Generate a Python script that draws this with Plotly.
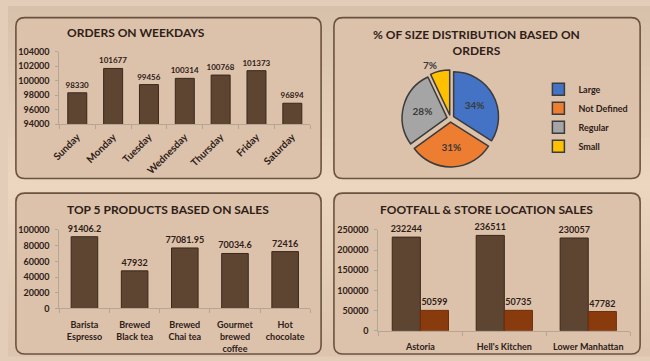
import plotly.graph_objects as go

W, H = 650, 361

# ---- data ----
days = ["Sunday", "Monday", "Tuesday", "Wednesday", "Thursday", "Friday", "Saturday"]
orders = [98330, 101677, 99456, 100314, 100768, 101373, 96894]

sizes = ["Large", "Not Defined", "Regular", "Small"]
size_pct = [34, 31, 28, 7]

products = ["Barista<br>Espresso", "Brewed<br>Black tea", "Brewed<br>Chai tea",
            "Gourmet<br>brewed<br>coffee", "Hot<br>chocolate"]
product_sales = [91406.2, 47932, 77081.95, 70034.6, 72416]

locations = ["Astoria", "Hell's Kitchen", "Lower Manhattan"]
loc_sales = [232244, 236511, 230057]
loc_footfall = [50599, 50735, 47782]

# ---- styles ----
FONT = "Lato"
DARK = "#2e2018"
BAR = "#5d4532"
BAR_LINE = "#3a281c"
ORANGE = "#8a3b0e"
AXIS = "#b4a595"
PANEL = "#dcc2aa"
PANEL_LINE = "#6a5340"


def px(x):
    return x / W


def py(y):
    return 1 - y / H


def rrect(x0, y0, x1, y1, r=9):
    pts = [
        ("M", [(x0 + r, y0)]), ("L", [(x1 - r, y0)]), ("Q", [(x1, y0), (x1, y0 + r)]),
        ("L", [(x1, y1 - r)]), ("Q", [(x1, y1), (x1 - r, y1)]), ("L", [(x0 + r, y1)]),
        ("Q", [(x0, y1), (x0, y1 - r)]), ("L", [(x0, y0 + r)]), ("Q", [(x0, y0), (x0 + r, y0)]),
    ]
    s = ""
    for cmd, ps in pts:
        s += cmd + " " + " ".join(f"{px(a):.5f},{py(b):.5f}" for a, b in ps) + " "
    return s + "Z"


def mix(c1, c2, t):
    a = [int(c1[i:i + 2], 16) for i in (1, 3, 5)]
    b = [int(c2[i:i + 2], 16) for i in (1, 3, 5)]
    return "#" + "".join(f"{round(a[i] + (b[i] - a[i]) * t):02x}" for i in range(3))


shapes = []
# background vertical gradient
top_c, mid_c, bot_c = "#d8c0ab", "#ecd6bf", "#dcc4ae"
N = 40
for i in range(N):
    y0 = H * i / N
    y1 = H * (i + 1) / N
    yc = (y0 + y1) / 2
    if yc < 186:
        c = mix(top_c, mid_c, yc / 186)
    else:
        c = mix(mid_c, bot_c, (yc - 186) / (H - 186))
    shapes.append(dict(type="rect", xref="paper", yref="paper", x0=0, x1=1,
                       y0=py(y1 + 0.5), y1=py(y0), fillcolor=c, line=dict(width=0), layer="below"))

panels = [(8, 12, 317, 178), (330, 12, 640, 178), (8, 193, 317, 359), (330, 193, 640, 359)]
for p in panels:
    shapes.append(dict(type="path", xref="paper", yref="paper", path=rrect(*p),
                       fillcolor=PANEL, line=dict(color=PANEL_LINE, width=1.6), layer="below"))

fig = go.Figure()

# chart 1
fig.add_trace(go.Bar(x=days, y=orders, xaxis="x", yaxis="y", width=0.53,
                     marker=dict(color=BAR, line=dict(color=BAR_LINE, width=1)),
                     text=[str(v) for v in orders], textposition="outside", constraintext="none",
                     textfont=dict(family=FONT, size=8, color=DARK, weight="bold"),
                     cliponaxis=False, showlegend=False))

# chart 2 pie
fig.add_trace(go.Pie(labels=sizes, values=size_pct, sort=False, direction="clockwise",
                     rotation=0, pull=[0.08, 0.08, 0.08, 0.08],
                     marker=dict(colors=["#4472c4", "#ed7d31", "#a5a5a5", "#ffc000"],
                                 line=dict(color="#3b3b3b", width=1.5)),
                     texttemplate="%{percent:.0%}",
                     textposition=["inside", "inside", "inside", "outside"],
                     textfont=dict(family=FONT, size=10, color="#3a3a3a", weight="bold"),
                     insidetextorientation="horizontal",
                     domain=dict(x=[px(398), px(498)], y=[py(166), py(66)]),
                     showlegend=True))

# chart 3
fig.add_trace(go.Bar(x=products, y=product_sales, xaxis="x2", yaxis="y2", width=0.53,
                     marker=dict(color=BAR, line=dict(color=BAR_LINE, width=1)),
                     text=[str(v) for v in product_sales], textposition="outside", constraintext="none",
                     textfont=dict(family=FONT, size=9, color=DARK, weight="bold"),
                     cliponaxis=False, showlegend=False))

# chart 4
fig.add_trace(go.Bar(x=locations, y=loc_sales, xaxis="x3", yaxis="y3", width=0.335, offset=-0.335,
                     name="Sales",
                     marker=dict(color=BAR, line=dict(color=BAR_LINE, width=1)),
                     text=[str(v) for v in loc_sales], textposition="outside", constraintext="none",
                     textfont=dict(family=FONT, size=9, color=DARK, weight="bold"),
                     cliponaxis=False, showlegend=False))
fig.add_trace(go.Bar(x=locations, y=loc_footfall, xaxis="x3", yaxis="y3", width=0.335, offset=0,
                     name="Footfall",
                     marker=dict(color=ORANGE, line=dict(color="#6e2e0a", width=1)),
                     text=[str(v) for v in loc_footfall], textposition="outside", constraintext="none",
                     textfont=dict(family=FONT, size=9, color=DARK, weight="bold"),
                     cliponaxis=False, showlegend=False))

tick_font = dict(family=FONT, size=9, color=DARK, weight="bold")


def xax(domain, anchor, angle=0, size=9, standoff=2):
    return dict(domain=domain, anchor=anchor, showline=True, linecolor=AXIS, linewidth=1,
                ticks="outside", tickson="boundaries", ticklen=4, tickcolor=AXIS,
                tickfont=dict(family=FONT, size=size, color=DARK, weight="bold"),
                tickangle=angle, ticklabelstandoff=standoff, showgrid=False, fixedrange=True)


def yax(domain, anchor, rng, dtick):
    return dict(domain=domain, anchor=anchor, range=rng, dtick=dtick, showline=True,
                linecolor=AXIS, linewidth=1, ticks="outside", ticklen=3, tickcolor=AXIS,
                tickfont=tick_font, tickformat="d", ticklabelstandoff=4, showgrid=False,
                zeroline=False, fixedrange=True)


annotations = [
    dict(text="ORDERS ON WEEKDAYS", x=px(130), y=py(27)),
    dict(text="% OF SIZE DISTRIBUTION BASED ON<br>ORDERS", x=px(474), y=py(38)),
    dict(text="TOP 5 PRODUCTS BASED ON SALES", x=px(162), y=py(210)),
    dict(text="FOOTFALL & STORE LOCATION SALES", x=px(484), y=py(210)),
]
for a in annotations:
    a.update(xref="paper", yref="paper", showarrow=False, xanchor="center", yanchor="middle",
             font=dict(family=FONT, size=12, color=DARK, weight="bold"))

fig.update_layout(
    width=W, height=H, margin=dict(l=0, r=0, t=0, b=0),
    paper_bgcolor="#e4cdb8", plot_bgcolor="rgba(0,0,0,0)",
    font=dict(family=FONT, color=DARK),
    shapes=shapes, annotations=annotations,
    xaxis=xax([px(52), px(306)], "y", -45, 10, 2),
    yaxis=yax([py(122), py(47)], "x", [94000, 104000], 2000),
    xaxis2=xax([px(52), px(306)], "y2", 0, 9, 8),
    yaxis2=yax([py(312), py(231)], "x2", [0, 100000], 20000),
    xaxis3=xax([px(375), px(630)], "y3", 0, 9, 7),
    yaxis3=yax([py(335), py(231)], "x3", [0, 250000], 50000),
    legend=dict(x=px(537), y=py(71), xanchor="left", yanchor="top", bgcolor="rgba(0,0,0,0)",
                font=dict(family=FONT, size=9, color=DARK, weight="bold"),
                itemwidth=30, tracegroupgap=0),
)

fig.write_html("out.html", config={"displayModeBar": False},
               post_script="document.body.style.margin='0';document.body.style.overflow='hidden';")
